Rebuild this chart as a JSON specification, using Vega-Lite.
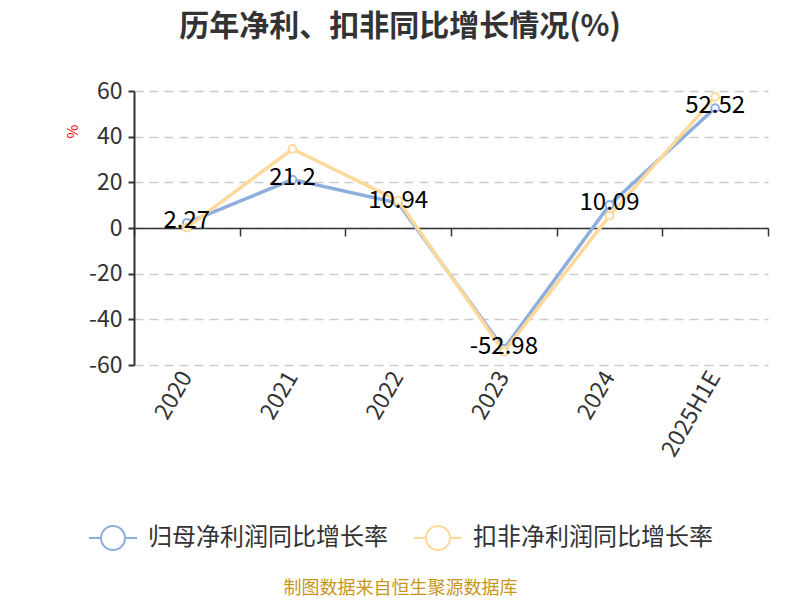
{
  "$schema": "https://vega.github.io/schema/vega-lite/v6.json",
  "autosize": {"type": "none"},
  "padding": {"left": 134, "top": 91, "right": 32, "bottom": 235},
  "width": 634,
  "height": 274,
  "background": "white",
  "config": {
    "font": "Noto Sans CJK SC",
    "view": {"stroke": null}
  },
  "title": {
    "text": "历年净利、扣非同比增长情况(%)",
    "fontSize": 30,
    "fontWeight": "bold",
    "color": "#333333",
    "anchor": "middle",
    "frame": "group",
    "dx": -51,
    "offset": 38
  },
  "data": {
    "values": [
      {"year": "2020", "series": "归母净利润同比增长率", "value": 2.27},
      {"year": "2021", "series": "归母净利润同比增长率", "value": 21.2},
      {"year": "2022", "series": "归母净利润同比增长率", "value": 10.94},
      {"year": "2023", "series": "归母净利润同比增长率", "value": -52.98},
      {"year": "2024", "series": "归母净利润同比增长率", "value": 10.09},
      {"year": "2025H1E", "series": "归母净利润同比增长率", "value": 52.52},
      {"year": "2020", "series": "扣非净利润同比增长率", "value": 0.2},
      {"year": "2021", "series": "扣非净利润同比增长率", "value": 34.6},
      {"year": "2022", "series": "扣非净利润同比增长率", "value": 12.0},
      {"year": "2023", "series": "扣非净利润同比增长率", "value": -54.2},
      {"year": "2024", "series": "扣非净利润同比增长率", "value": 5.4},
      {"year": "2025H1E", "series": "扣非净利润同比增长率", "value": 57.4}
    ]
  },
  "encoding": {
    "y": {
      "field": "value",
      "type": "quantitative",
      "scale": {"domain": [-60, 60], "nice": false},
      "axis": {
        "title": "%",
        "titleColor": "#ff0000",
        "titleFontSize": 15,
        "titleFontWeight": "normal",
        "titleX": -62,
        "titleY": 40,
        "titleAngle": -90,
        "titleAlign": "center",
        "titleBaseline": "middle",
        "values": [-60, -40, -20, 0, 20, 40, 60],
        "labelExpr": "replace(datum.label, '−', '-')",
        "labelFontSize": 23,
        "labelColor": "#333333",
        "labelPadding": 6,
        "domainColor": "#333333",
        "domainWidth": 2,
        "tickColor": "#333333",
        "tickWidth": 2,
        "tickSize": 6,
        "grid": true,
        "gridColor": "#cccccc",
        "gridWidth": 1.5,
        "gridDash": [9, 6]
      }
    }
  },
  "layer": [
    {
      "mark": {"type": "point", "opacity": 0},
      "encoding": {
        "x": {
          "field": "year",
          "type": "ordinal",
          "sort": null,
          "bandPosition": 0.5,
          "scale": {"type": "band", "paddingInner": 0, "paddingOuter": 0},
          "axis": {
            "title": "制图数据来自恒生聚源数据库",
            "titleColor": "#c8961e",
            "titleFontSize": 18,
            "titleFontWeight": "normal",
            "titleX": 266,
            "titleY": 223,
            "titleAlign": "center",
            "titleBaseline": "middle",
            "labelAngle": -60,
            "labelFontSize": 23,
            "labelColor": "#333333",
            "labelPadding": 8,
            "ticks": false,
            "domain": false,
            "grid": false
          }
        }
      }
    },
    {
      "mark": {"type": "point", "opacity": 0},
      "encoding": {
        "x": {
          "field": "year",
          "type": "ordinal",
          "sort": null,
          "bandPosition": 0.5,
          "scale": {"type": "band", "paddingInner": 0, "paddingOuter": 0},
          "axis": {
            "title": null,
            "labels": false,
            "grid": false,
            "orient": "top",
            "offset": -137,
            "domain": true,
            "domainColor": "#333333",
            "domainWidth": 1.5,
            "ticks": true,
            "tickBand": "extent",
            "tickColor": "#333333",
            "tickWidth": 1.5,
            "tickSize": -8
          }
        }
      }
    },
    {
      "transform": [{"filter": "datum.series === '归母净利润同比增长率'"}],
      "mark": {"type": "line", "strokeWidth": 3.5},
      "encoding": {
        "x": {"field": "year", "type": "ordinal", "sort": null, "bandPosition": 0.5, "axis": null},
        "color": {
          "field": "series",
          "type": "nominal",
          "scale": {
            "domain": ["归母净利润同比增长率", "扣非净利润同比增长率"],
            "range": ["#8eaedd", "#ffd99a"]
          },
          "legend": {
            "title": null,
            "orient": "none",
            "direction": "horizontal",
            "legendX": -46,
            "legendY": 422,
            "labelFontSize": 24,
            "labelColor": "#333333",
            "labelLimit": 0,
            "labelOffset": 10,
            "columnPadding": 22,
            "symbolType": "M-1,0L-0.5,0M0.5,0L1,0M-0.5,0A0.5,0.5 0 1,1 0.5,0A0.5,0.5 0 1,1 -0.5,0",
            "symbolSize": 2304,
            "symbolStrokeWidth": 2,
            "encode": {"symbols": {"update": {"fill": {"value": "white"}, "fillOpacity": {"value": 1}}}}
          }
        }
      }
    },
    {
      "transform": [{"filter": "datum.series === '归母净利润同比增长率'"}],
      "mark": {"type": "point", "shape": "circle", "filled": true, "fill": "white", "stroke": "#8eaedd", "size": 60, "strokeWidth": 2, "opacity": 1},
      "encoding": {
        "x": {"field": "year", "type": "ordinal", "sort": null, "bandPosition": 0.5, "axis": null}
      }
    },
    {
      "transform": [{"filter": "datum.series === '扣非净利润同比增长率'"}],
      "mark": {"type": "line", "strokeWidth": 3.5},
      "encoding": {
        "x": {"field": "year", "type": "ordinal", "sort": null, "bandPosition": 0.5, "axis": null},
        "color": {"field": "series", "type": "nominal"}
      }
    },
    {
      "transform": [{"filter": "datum.series === '扣非净利润同比增长率'"}],
      "mark": {"type": "point", "shape": "circle", "filled": true, "fill": "white", "stroke": "#ffd99a", "size": 60, "strokeWidth": 2, "opacity": 1},
      "encoding": {
        "x": {"field": "year", "type": "ordinal", "sort": null, "bandPosition": 0.5, "axis": null}
      }
    },
    {
      "transform": [{"filter": "datum.series === '归母净利润同比增长率'"}],
      "mark": {"type": "text", "fontSize": 24, "color": "#000000", "dy": -2, "baseline": "middle"},
      "encoding": {
        "x": {"field": "year", "type": "ordinal", "sort": null, "bandPosition": 0.5, "axis": null},
        "text": {"field": "value", "type": "nominal"}
      }
    }
  ],
  "resolve": {"axis": {"x": "independent"}}
}
